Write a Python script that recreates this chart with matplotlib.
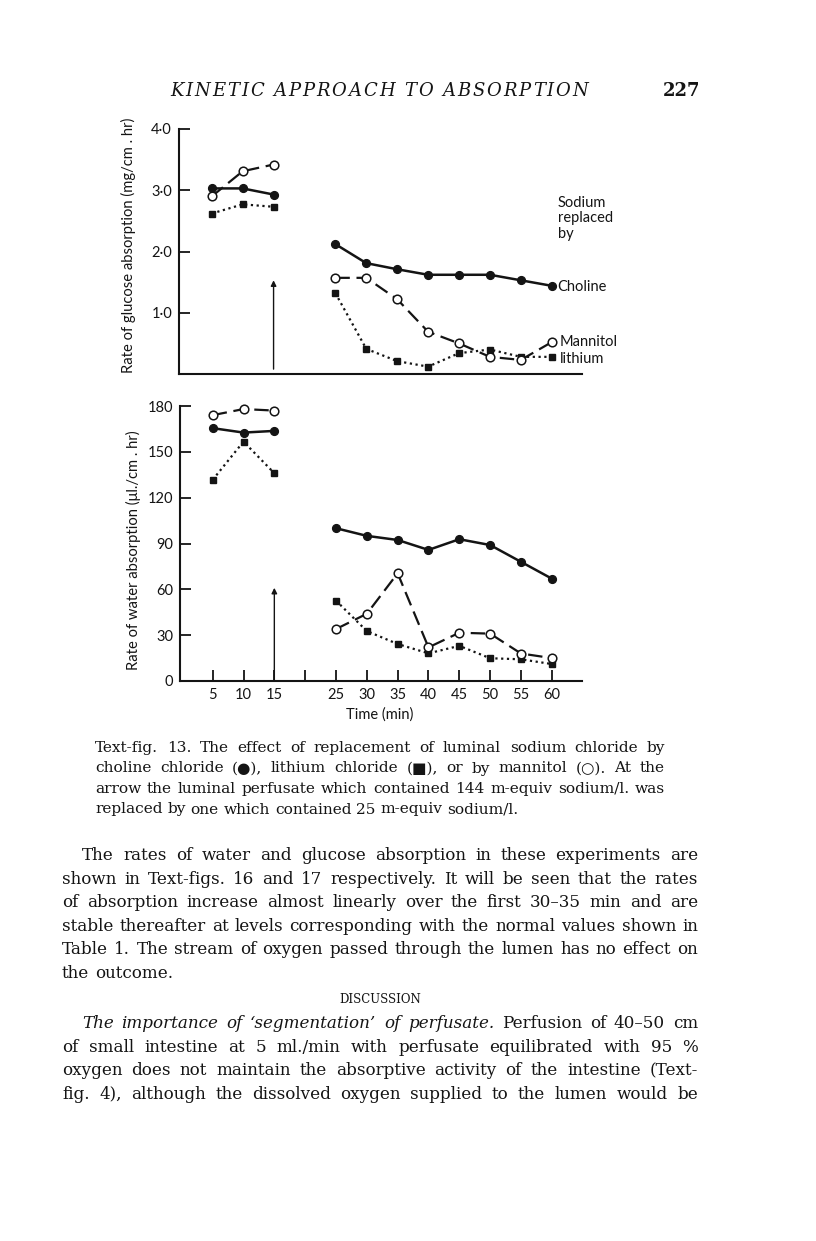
import matplotlib
matplotlib.use("Agg")
import matplotlib.pyplot as plt

W, H = 816, 1241
INK = "#141414"

# time points (min) before and after the perfusate was changed at 15 min
time_pre = [5, 10, 15]
time_post = [25, 30, 35, 40, 45, 50, 55, 60]
arrow_time = 15

# glucose absorption (mg/cm.hr)
glucose_choline_pre = [3.03, 3.03, 2.93]
glucose_choline_post = [2.12, 1.81, 1.71, 1.62, 1.62, 1.62, 1.53, 1.44]
glucose_mannitol_pre = [2.90, 3.31, 3.42]
glucose_mannitol_post = [1.57, 1.57, 1.22, 0.69, 0.50, 0.28, 0.23, 0.52]
glucose_lithium_pre = [2.62, 2.77, 2.73]
glucose_lithium_post = [1.32, 0.41, 0.21, 0.12, 0.34, 0.40, 0.28, 0.28]
glucose_arrow_tip = 1.53

# water absorption (ul./cm.hr)
water_choline_pre = [165.5, 162.6, 163.7]
water_choline_post = [100, 95, 92.3, 85.8, 92.8, 89, 78, 67]
water_mannitol_pre = [174, 178, 177]
water_mannitol_post = [34, 44, 70.5, 22, 31.6, 31, 18, 15]
water_lithium_pre = [131.7, 156.7, 136]
water_lithium_post = [52.6, 32.7, 24.2, 18.1, 23, 14.9, 14.2, 11.1]
water_arrow_tip = 61

glucose_ticks = [1, 2, 3, 4]
glucose_ticklabels = ["1·0", "2·0", "3·0", "4·0"]
water_ticks = [0, 30, 60, 90, 120, 150, 180]
time_ticks = [5, 10, 15, 20, 25, 30, 35, 40, 45, 50, 55, 60]
time_ticklabels = ["5", "10", "15", "", "25", "30", "35", "40", "45", "50", "55", "60"]

header = "KINETIC APPROACH TO ABSORPTION"
page_number = "227"

caption_lines = [
    "Text-fig. 13. The effect of replacement of luminal sodium chloride by",
    "choline chloride (●), lithium chloride (■), or by mannitol (○). At the",
    "arrow the luminal perfusate which contained 144 m-equiv sodium/l. was",
    "replaced by one which contained 25 m-equiv sodium/l.",
]
para1_lines = [
    "The rates of water and glucose absorption in these experiments are",
    "shown in Text-figs. 16 and 17 respectively. It will be seen that the rates",
    "of absorption increase almost linearly over the first 30–35 min and are",
    "stable thereafter at levels corresponding with the normal values shown in",
    "Table 1. The stream of oxygen passed through the lumen has no effect on",
    "the outcome.",
]
para2_italic = "The importance of ‘segmentation’ of perfusate."
para2_lines = [
    "Perfusion of 40–50 cm",
    "of small intestine at 5 ml./min with perfusate equilibrated with 95 %",
    "oxygen does not maintain the absorptive activity of the intestine (Text-",
    "fig. 4), although the dissolved oxygen supplied to the lumen would be",
]

plt.rcParams["font.family"] = ["Lato", "DejaVu Sans"]
SERIF = ["DejaVu Serif", "DejaVu Sans"]

fig = plt.figure(figsize=(W / 100, H / 100), dpi=100, facecolor="white")
renderer = fig.canvas.get_renderer()


def fx(x):
    return x / W


def fy(y):
    return 1 - y / H


def axes_box(x0, y0, x1, y1):
    return fig.add_axes([fx(x0), fy(y1), (x1 - x0) / W, (y1 - y0) / H])


choline_style = dict(color=INK, lw=1.8, ls="-", marker="o", ms=5.6, mfc=INK, mec=INK)
mannitol_style = dict(color=INK, lw=1.6, dashes=(6.5, 3), marker="o", ms=6.2,
                      mfc="white", mec=INK, mew=1.1)
lithium_style = dict(color=INK, lw=1.6, dashes=(1, 1.6), marker="s", ms=4.8,
                     mfc=INK, mec=INK)


def draw_series(ax, pre, post, style):
    for t, v in ((time_pre, pre), (time_post, post)):
        ax.plot(t, v, clip_on=False, **style)


def style_axes(ax):
    ax.set_xlim(-0.3, 64.9)
    ax.patch.set_alpha(0)
    for side in ("top", "right"):
        ax.spines[side].set_visible(False)
    for side in ("left", "bottom"):
        ax.spines[side].set_linewidth(1.5)
        ax.spines[side].set_color(INK)
    ax.tick_params(direction="in", length=8, width=1.3, color=INK,
                   labelsize=10.5, pad=5, labelcolor=INK)


ax_g = axes_box(179, 129, 582, 374)
ax_w = axes_box(180, 406, 582, 681)
for ax in (ax_g, ax_w):
    style_axes(ax)

# glucose panel
draw_series(ax_g, glucose_lithium_pre, glucose_lithium_post, lithium_style)
draw_series(ax_g, glucose_choline_pre, glucose_choline_post, choline_style)
draw_series(ax_g, glucose_mannitol_pre, glucose_mannitol_post, mannitol_style)
ax_g.set_ylim(0, 4)
ax_g.set_yticks(glucose_ticks)
ax_g.set_yticklabels(glucose_ticklabels)
ax_g.set_xticks([])
ax_g.annotate("", xy=(arrow_time, glucose_arrow_tip), xytext=(arrow_time, 0.08),
              arrowprops=dict(arrowstyle="-|>", lw=1.0, color=INK,
                              mutation_scale=8, shrinkA=0, shrinkB=0))

# water panel
draw_series(ax_w, water_lithium_pre, water_lithium_post, lithium_style)
draw_series(ax_w, water_choline_pre, water_choline_post, choline_style)
draw_series(ax_w, water_mannitol_pre, water_mannitol_post, mannitol_style)
ax_w.set_ylim(0, 180)
ax_w.set_yticks(water_ticks)
ax_w.set_xticks(time_ticks)
ax_w.set_xticklabels(time_ticklabels)
ax_w.annotate("", xy=(arrow_time, water_arrow_tip), xytext=(arrow_time, 0),
              arrowprops=dict(arrowstyle="-|>", lw=1.0, color=INK,
                              mutation_scale=8, shrinkA=0, shrinkB=0))

# axis titles and key
fig.text(fx(128), fy(245), "Rate of glucose absorption (mg/cm . hr)", rotation=90,
         ha="center", va="center", fontsize=10.6, color=INK)
fig.text(fx(133), fy(550), "Rate of water absorption (μl./cm . hr)", rotation=90,
         ha="center", va="center", fontsize=10.6, color=INK)
fig.text(fx(380), fy(715), "Time (min)", ha="center", va="center", fontsize=10.5, color=INK)
for label, y in (("Sodium", 203), ("replaced", 218), ("by", 234)):
    fig.text(fx(558), fy(y), label, va="center", fontsize=10.5, color=INK)
fig.text(fx(557), fy(287), "Choline", va="center", fontsize=10.5, color=INK)
fig.text(fx(560), fy(342), "Mannitol", va="center", fontsize=10.5, color=INK)
fig.text(fx(560), fy(359), "lithium", va="center", fontsize=10.5, color=INK)


# ---- page text ----
def text_width(s, **kw):
    t = fig.text(0, 0, s, **kw)
    w = t.get_window_extent(renderer).width
    t.remove()
    return w


def place_words(words, x0, x1, y, size, justify=True):
    # words: list of (word, fontstyle); y is the baseline in pixels
    kw = dict(fontsize=size, family=SERIF)
    widths = [text_width(w, fontstyle=st, **kw) for w, st in words]
    space = text_width("a a", **kw) - text_width("aa", **kw)
    if justify and len(words) > 1:
        gap = (x1 - x0 - sum(widths)) / (len(words) - 1)
    else:
        gap = space
    x = x0
    for (w, st), wd in zip(words, widths):
        fig.text(fx(x), fy(y), w, fontstyle=st, va="baseline", color=INK, **kw)
        x += wd + gap


def fit_size(lines, width, start=12):
    worst = max(text_width(s, fontsize=start, family=SERIF) for s in lines)
    return start * width / worst * 0.985


def plain(s):
    return [(w, "normal") for w in s.split()]


# running head, italic capitals with a little letter spacing
head_size = 13
chars = list(header)
sp = (text_width("A A", fontsize=head_size, family=SERIF, fontstyle="italic")
      - text_width("AA", fontsize=head_size, family=SERIF, fontstyle="italic"))
cw = [text_width(c, fontsize=head_size, family=SERIF, fontstyle="italic") if c != " " else sp
      for c in chars]
track = (588 - 170 - sum(cw)) / (len(chars) - 1)
x = 170
for c, w in zip(chars, cw):
    if c != " ":
        fig.text(fx(x), fy(96), c, fontsize=head_size, family=SERIF, fontstyle="italic",
                 va="baseline", color=INK)
    x += w + track
fig.text(fx(700), fy(96), page_number, fontsize=head_size, family=SERIF, ha="right",
         va="baseline", color=INK, fontweight="bold")

# caption
cap_size = fit_size(caption_lines[:3], 665 - 95)
for i, line in enumerate(caption_lines):
    place_words(plain(line), 95, 665, 752 + 20.5 * i, cap_size,
                justify=i < len(caption_lines) - 1)

# body paragraphs
body_size = fit_size(para1_lines[1:5] + para2_lines[1:], 698 - 62)
for i, line in enumerate(para1_lines):
    x0 = 82 if i == 0 else 62
    place_words(plain(line), x0, 698, 860 + 23.6 * i, body_size,
                justify=i < len(para1_lines) - 1)

fig.text(fx(380), fy(1003), "DISCUSSION", fontsize=8.5, family=SERIF, ha="center",
         va="baseline", color=INK)

first = [(w, "italic") for w in para2_italic.split()] + plain(para2_lines[0])
place_words(first, 82, 698, 1028, body_size)
for i, line in enumerate(para2_lines[1:], start=1):
    place_words(plain(line), 62, 698, 1028 + 23.6 * i, body_size)

fig.savefig("out.png", dpi=100, facecolor="white")
